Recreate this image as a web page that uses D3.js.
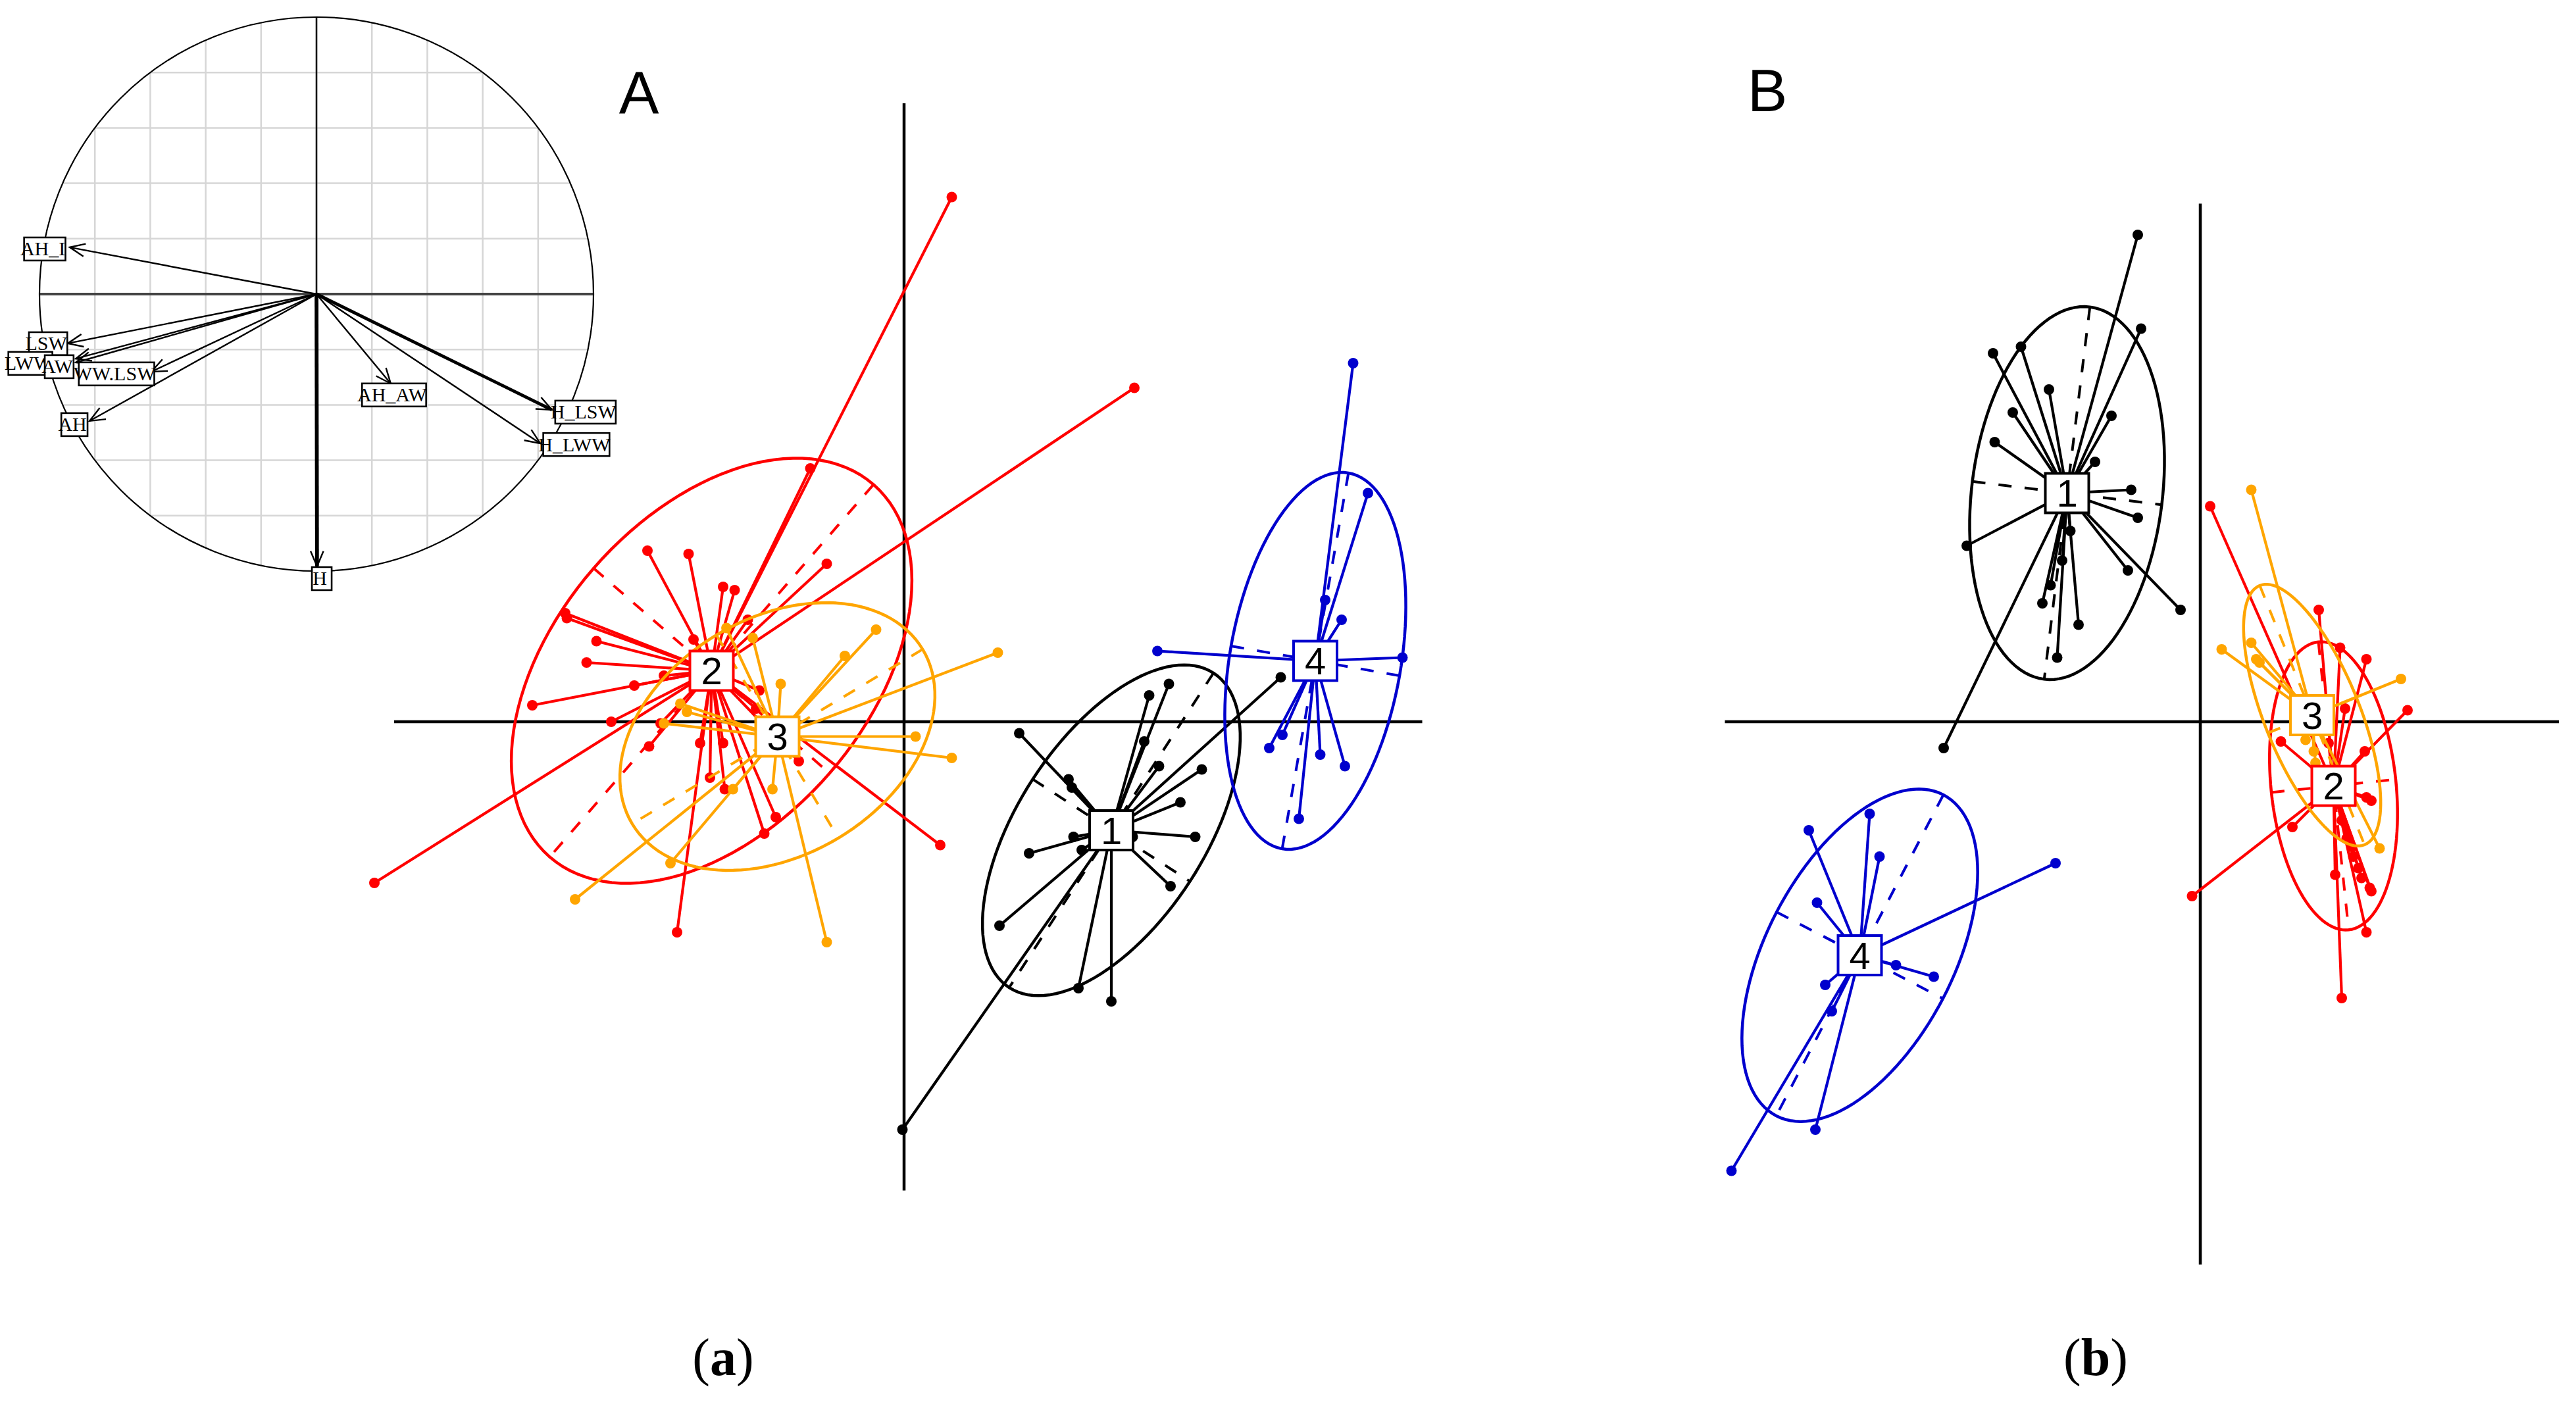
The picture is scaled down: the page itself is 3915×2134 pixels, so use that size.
<!DOCTYPE html>
<html>
<head>
<meta charset="utf-8">
<script src="https://cdn.jsdelivr.net/npm/d3@7"></script>
<style>
  body { margin: 0; background: #fff; }
  svg { display: block; }
</style>
</head>
<body>
<script>

// ---- groups ----
var groupNames = ["1", "2", "3", "4"];
var groupColors = ["#000000", "#ff0000", "#ffa500", "#0000cd"];

// ---- correlation circle (inset of A) ----
var varNames  = ["AH_I", "LSW", "LWW", "AW", "WW.LSW", "AH", "AH_AW", "H_LSW", "H_LWW", "H"];
var varX      = [-0.891, -0.898, -0.869, -0.869, -0.596, -0.819, 0.268, 0.850, 0.808, 0.002];
var varY      = [0.169, -0.178, -0.233, -0.247, -0.280, -0.458, -0.323, -0.418, -0.539, -0.983];
var varLabelX = [-0.988, -0.976, -1.040, -0.936, -0.729, -0.881, 0.273, 0.964, 0.931, 0.012];
var varLabelY = [0.164, -0.178, -0.249, -0.261, -0.287, -0.470, -0.363, -0.425, -0.542, -1.026];
var varWeight = [1, 1, 1, 1, 1, 1, 1, 2, 1, 2.4];

// ---- panel A: class centres, ellipses [a, b, angle], points ----
var centersA  = [[1.26, -0.66], [-1.17, 0.31], [-0.77, -0.09], [2.50, 0.37]];
var ellipsesA = [[1.14, 0.57, 57], [1.50, 0.95, 49], [1.03, 0.72, 31], [1.16, 0.52, 80]];
var pointsA1 = [[-0.01,-2.48],[2.29,0.27],[0.70,-0.07],[1.00,-0.35],[1.02,-0.40],[1.49,0.16],[1.61,0.23],
  [1.46,-0.12],[1.55,-0.27],[1.81,-0.29],[1.68,-0.49],[1.77,-0.70],[1.62,-1.00],[0.76,-0.80],[1.03,-0.70],
  [1.08,-0.78],[0.58,-1.24],[1.06,-1.62],[1.26,-1.70],[1.39,-0.70]];
var pointsA2 = [[0.29,3.19],[-3.22,-0.98],[1.40,2.03],[-0.57,1.54],[-1.56,1.04],[-1.31,1.02],[-1.10,0.82],
  [-1.03,0.80],[-0.47,0.96],[-2.06,0.66],[-2.05,0.63],[-1.87,0.49],[-1.93,0.36],[-2.26,0.10],[-1.64,0.22],
  [-1.78,0.00],[-1.55,-0.15],[-1.46,0.28],[-1.24,-0.13],[-1.10,-0.13],[-1.18,-0.34],[-1.09,-0.41],
  [-0.85,-0.68],[-0.78,-0.58],[-0.64,-0.24],[0.22,-0.75],[-1.38,-1.28],[-1.28,0.50],[-0.95,0.62],
  [-0.88,0.19],[-0.90,0.08],[-1.48,-0.01]];
var pointsA3 = [[-0.17,0.56],[-0.36,0.40],[-0.75,0.23],[0.57,0.42],[0.07,-0.09],[0.29,-0.22],[-0.80,-0.41],
  [-1.04,-0.41],[-1.42,-0.86],[-2.00,-1.08],[-0.47,-1.34],[-1.32,0.06],[-1.46,-0.01],[-1.36,0.11],
  [-0.92,0.51],[-1.08,0.57]];
var pointsA4 = [[2.73,2.18],[2.82,1.39],[2.66,0.62],[3.03,0.39],[2.22,-0.16],[2.30,-0.08],[2.53,-0.20],
  [2.68,-0.27],[2.40,-0.59],[1.54,0.43],[2.56,0.74]];

// ---- panel B ----
var centersB  = [[-0.81, 1.39], [0.81, -0.39], [0.68, 0.04], [-2.07, -1.42]];
var ellipsesB = [[1.14, 0.58, 83], [0.88, 0.38, 96], [0.85, 0.29, 112], [1.10, 0.57, 62.5]];
var pointsB1 = [[-0.38,2.96],[-0.36,2.39],[-1.26,2.24],[-1.09,2.28],[-0.92,2.02],[-1.14,1.88],[-0.54,1.86],
  [-1.25,1.70],[-0.64,1.58],[-0.42,1.41],[-0.38,1.24],[-1.42,1.07],[-0.44,0.92],[-0.12,0.68],[-0.74,0.59],
  [-0.87,0.39],[-0.96,0.72],[-0.91,0.83],[-0.79,1.16],[-1.56,-0.16],[-0.84,0.98]];
var pointsB2 = [[0.06,1.31],[0.72,0.68],[0.85,0.45],[1.01,0.38],[1.26,0.07],[0.88,0.08],[0.49,-0.12],
  [1.00,-0.18],[0.56,-0.64],[-0.05,-1.06],[0.86,-1.68],[1.01,-1.28],[1.04,-1.03],[0.82,-0.93],[1.01,-0.46],
  [1.04,-0.48],[0.93,-0.82],[0.89,-0.71],[0.96,-0.89],[1.03,-1.01],[0.78,-0.13],[0.98,-0.95],[0.92,-0.76],
  [0.86,-0.60]];
var pointsB3 = [[0.31,1.41],[0.13,0.44],[0.31,0.48],[0.34,0.38],[0.36,0.36],[1.22,0.26],[1.09,-0.77],
  [0.69,-0.18],[0.64,-0.11],[0.70,-0.25]];
var pointsB4 = [[-0.88,-0.86],[-2.85,-2.73],[-2.38,-0.66],[-2.01,-0.56],[-1.95,-0.82],[-2.33,-1.10],
  [-1.62,-1.55],[-1.85,-1.48],[-2.28,-1.60],[-2.24,-1.76],[-2.34,-2.48]];

// axis extents (data units)
var axisA = {x: [-3.1, 3.15], y: [-2.85, 3.76]};
var axisB = {x: [-2.89, 2.18], y: [-3.30, 3.15]};

var width = 3915, height = 2134;
var svg = d3.select("body").append("svg")
    .attr("width", width)
    .attr("height", height);
svg.append("rect").attr("width", width).attr("height", height).attr("fill", "#fff");

//////////// SCATTER PANELS ////////////

function ellipsePath(xs, ys, c, e) {
  var th = e[2] * Math.PI / 180;
  var pts = d3.range(0, 120).map(function(i) {
    var t = i / 120 * 2 * Math.PI;
    return [c[0] + e[0] * Math.cos(t) * Math.cos(th) - e[1] * Math.sin(t) * Math.sin(th),
            c[1] + e[0] * Math.cos(t) * Math.sin(th) + e[1] * Math.sin(t) * Math.cos(th)];
  });
  return d3.line()
      .x(function(d) { return xs(d[0]); })
      .y(function(d) { return ys(d[1]); })
      .curve(d3.curveLinearClosed)(pts);
}

function drawPanel(xs, ys, axis, centers, ellipses, pointSets) {
  var g = svg.append("g");

  // the two axes through the origin
  g.append("line")
      .attr("x1", xs(axis.x[0])).attr("x2", xs(axis.x[1]))
      .attr("y1", ys(0)).attr("y2", ys(0))
      .attr("stroke", "#000").attr("stroke-width", 4.5);
  g.append("line")
      .attr("x1", xs(0)).attr("x2", xs(0))
      .attr("y1", ys(axis.y[0])).attr("y2", ys(axis.y[1]))
      .attr("stroke", "#000").attr("stroke-width", 4.5);

  pointSets.forEach(function(pts, k) {
    var col = groupColors[k], c = centers[k], e = ellipses[k];
    var gg = g.append("g");

    // ellipse
    gg.append("path")
        .attr("d", ellipsePath(xs, ys, c, e))
        .attr("fill", "none").attr("stroke", col).attr("stroke-width", 4.5);

    // dashed ellipse axes
    var th = e[2] * Math.PI / 180;
    var axes = [[Math.cos(th) * e[0], Math.sin(th) * e[0]],
                [-Math.sin(th) * e[1], Math.cos(th) * e[1]]];
    gg.selectAll("line.ax").data(axes).enter().append("line")
        .attr("class", "ax")
        .attr("x1", function(d) { return xs(c[0] + d[0]); })
        .attr("y1", function(d) { return ys(c[1] + d[1]); })
        .attr("x2", function(d) { return xs(c[0] - d[0]); })
        .attr("y2", function(d) { return ys(c[1] - d[1]); })
        .attr("stroke", col).attr("stroke-width", 4)
        .attr("stroke-dasharray", "20,20");

    // star lines
    gg.selectAll("line.star").data(pts).enter().append("line")
        .attr("class", "star")
        .attr("x1", xs(c[0])).attr("y1", ys(c[1]))
        .attr("x2", function(d) { return xs(d[0]); })
        .attr("y2", function(d) { return ys(d[1]); })
        .attr("stroke", col).attr("stroke-width", 4.2);

    gg.selectAll("circle").data(pts).enter().append("circle")
        .attr("cx", function(d) { return xs(d[0]); })
        .attr("cy", function(d) { return ys(d[1]); })
        .attr("r", 8)
        .attr("fill", col);
  });

  // class labels on top
  var lab = g.selectAll("g.lab").data(centers).enter().append("g")
      .attr("class", "lab")
      .attr("transform", function(d) { return "translate(" + xs(d[0]) + "," + ys(d[1]) + ")"; });
  lab.append("rect")
      .attr("x", -33).attr("y", -30).attr("width", 66).attr("height", 60)
      .attr("fill", "#fff")
      .attr("stroke", function(d, i) { return groupColors[i]; })
      .attr("stroke-width", 4);
  lab.append("text")
      .attr("text-anchor", "middle")
      .attr("dy", "0.36em")
      .style("font-family", "'Liberation Sans', Arial, sans-serif")
      .style("font-size", "58px")
      .text(function(d, i) { return groupNames[i]; });
}

var xA = d3.scaleLinear().domain(axisA.x).range([599, 2161.5]);
var yA = d3.scaleLinear().domain(axisA.y).range([1809.5, 157]);
drawPanel(xA, yA, axisA, centersA, ellipsesA, [pointsA1, pointsA2, pointsA3, pointsA4]);

var xB = d3.scaleLinear().domain(axisB.x).range([2621.5, 3889]);
var yB = d3.scaleLinear().domain(axisB.y).range([1922, 309.5]);
drawPanel(xB, yB, axisB, centersB, ellipsesB, [pointsB1, pointsB2, pointsB3, pointsB4]);

//////////// CORRELATION CIRCLE ////////////

var cx = d3.scaleLinear().domain([-1, 1]).range([60, 902]);
var cy = d3.scaleLinear().domain([-1, 1]).range([868, 26]);
var cr = cx(1) - cx(0);
var circ = svg.append("g");

circ.append("clipPath").attr("id", "circClip")
  .append("circle").attr("cx", cx(0)).attr("cy", cy(0)).attr("r", cr);

var gridVals = d3.range(-4, 5).map(function(i) { return i * 0.2; });
var grid = circ.append("g").attr("clip-path", "url(#circClip)");
grid.selectAll("line.v").data(gridVals).enter().append("line")
    .attr("x1", function(d) { return cx(d); }).attr("x2", function(d) { return cx(d); })
    .attr("y1", cy(1)).attr("y2", cy(-1))
    .attr("stroke", "#d6d6d6").attr("stroke-width", 2.5);
grid.selectAll("line.h").data(gridVals).enter().append("line")
    .attr("y1", function(d) { return cy(d); }).attr("y2", function(d) { return cy(d); })
    .attr("x1", cx(-1)).attr("x2", cx(1))
    .attr("stroke", "#d6d6d6").attr("stroke-width", 2.5);

circ.append("line")
    .attr("x1", cx(-1)).attr("x2", cx(1)).attr("y1", cy(0)).attr("y2", cy(0))
    .attr("stroke", "#444").attr("stroke-width", 4);
circ.append("line")
    .attr("x1", cx(0)).attr("x2", cx(0)).attr("y1", cy(1)).attr("y2", cy(-1))
    .attr("stroke", "#000").attr("stroke-width", 2.5);
circ.append("circle")
    .attr("cx", cx(0)).attr("cy", cy(0)).attr("r", cr)
    .attr("fill", "none").attr("stroke", "#000").attr("stroke-width", 2.2);

// arrows
varNames.forEach(function(name, i) {
  var x0 = cx(0), y0 = cy(0), x1 = cx(varX[i]), y1 = cy(varY[i]);
  var w = 2.4 * varWeight[i];
  var ang = Math.atan2(y1 - y0, x1 - x0), hl = 25, ha = 0.4;
  circ.append("line")
      .attr("x1", x0).attr("y1", y0).attr("x2", x1).attr("y2", y1)
      .attr("stroke", "#000").attr("stroke-width", w);
  circ.append("path")
      .attr("d", "M" + (x1 - hl * Math.cos(ang - ha)) + "," + (y1 - hl * Math.sin(ang - ha)) +
                 "L" + x1 + "," + y1 +
                 "L" + (x1 - hl * Math.cos(ang + ha)) + "," + (y1 - hl * Math.sin(ang + ha)))
      .attr("fill", "none").attr("stroke", "#000").attr("stroke-width", 2.4);
});

// variable labels (box slightly narrower than the text, as in the original;
// the LWW box is partly covered by the AW box in the original too)
varNames.forEach(function(name, i) {
  var lg = circ.append("g")
      .attr("transform", "translate(" + cx(varLabelX[i]) + "," + cy(varLabelY[i]) + ")");
  var rect = lg.append("rect");
  var t = lg.append("text")
      .attr("text-anchor", "middle")
      .attr("dy", "0.35em")
      .style("font-family", "'Liberation Serif', 'Times New Roman', serif")
      .style("font-size", "30px")
      .text(name);
  var tw = t.node().getComputedTextLength();
  var bw = Math.max(tw * 0.92, 30);
  rect.attr("x", -bw / 2 + 3).attr("y", -17).attr("width", bw).attr("height", 35)
      .attr("fill", "#fff").attr("stroke", "#000").attr("stroke-width", 2.6);
});

//////////// PANEL LETTERS AND CAPTIONS ////////////

svg.append("text").attr("x", 971).attr("y", 172)
    .attr("text-anchor", "middle")
    .style("font-family", "'Liberation Sans', Arial, sans-serif")
    .style("font-size", "91px")
    .text("A");
svg.append("text").attr("x", 2686).attr("y", 169)
    .attr("text-anchor", "middle")
    .style("font-family", "'Liberation Sans', Arial, sans-serif")
    .style("font-size", "91px")
    .text("B");

[["a", 1099], ["b", 3185]].forEach(function(c) {
  var t = svg.append("text").attr("x", c[1]).attr("y", 2090)
      .attr("text-anchor", "middle")
      .style("font-family", "'Liberation Serif', 'Times New Roman', serif")
      .style("font-size", "80px");
  t.append("tspan").text("(");
  t.append("tspan").style("font-weight", "bold").text(c[0]);
  t.append("tspan").text(")");
});

</script>
</body>
</html>
